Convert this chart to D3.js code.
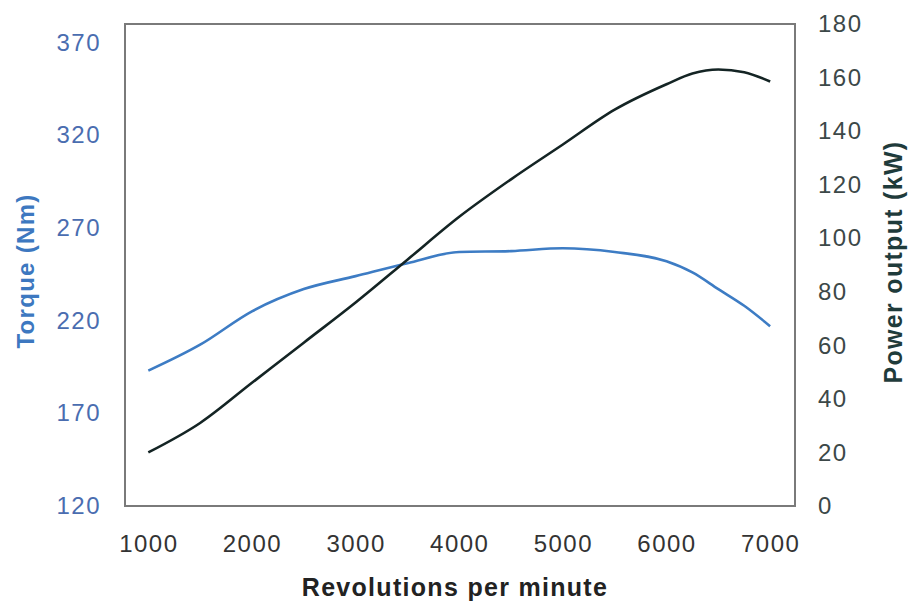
<!DOCTYPE html>
<html><head><meta charset="utf-8">
<script src="https://cdn.jsdelivr.net/npm/d3@7"></script>
<style>
body{margin:0;background:#fff;}
svg text{font-family:"Liberation Sans",Arial,Helvetica,sans-serif;}
</style></head>
<body><svg id="c" width="908" height="602"></svg>
<script>
const rpm    = [1000,1500,2000,2500,3000,3500,4000,4500,5000,5500,6000,6250,6500,6750,7000];
const torque = [193, 207, 225, 237, 244, 251, 257, 257.5,259, 257, 252, 246, 237, 228, 217];
const power  = [20,  31,  46,  61,  76,  92,  108, 122, 135, 148, 157.5,161.5,163,162,158.5];
const xTicks = [1000,2000,3000,4000,5000,6000,7000];
const torqueTicks = [120,170,220,270,320,370];
const powerTicks = [0,20,40,60,80,100,120,140,160,180];

const svg = d3.select("#c");
const L=125, R=795, T=24, B=506;
const x = d3.scaleLinear().domain([775,7240]).range([L,R]);
const yT = d3.scaleLinear().domain([120,380]).range([B,T]);
const yP = d3.scaleLinear().domain([0,180]).range([B,T]);

// frame
svg.append("rect").attr("x",L).attr("y",T).attr("width",R-L).attr("height",B-T)
  .attr("fill","none").attr("stroke","#7a7a7a").attr("stroke-width",2);

// x axis
const gx = svg.append("g").attr("transform",`translate(0,${B})`)
  .call(d3.axisBottom(x).tickValues(xTicks).tickSize(0).tickPadding(29).tickFormat(d3.format("d")));
gx.select(".domain").remove();
gx.selectAll("text").attr("font-size",24).attr("fill","#333").attr("letter-spacing","1.5px");

// left axis
const gl = svg.append("g").attr("transform",`translate(${L},0)`)
  .call(d3.axisLeft(yT).tickValues(torqueTicks).tickSize(0).tickPadding(24));
gl.select(".domain").remove();
gl.selectAll("text").attr("font-size",24).attr("fill","#4a6db0").attr("letter-spacing","1.5px");

// right axis
const gr = svg.append("g").attr("transform",`translate(${R},0)`)
  .call(d3.axisRight(yP).tickValues(powerTicks).tickSize(0).tickPadding(23));
gr.select(".domain").remove();
gr.selectAll("text").attr("font-size",24).attr("fill","#3c4848").attr("letter-spacing","1.5px");

// lines
const data = rpm.map((r,i)=>({r, t:torque[i], p:power[i]}));
svg.append("path").datum(data)
  .attr("d", d3.line().x(d=>x(d.r)).y(d=>yT(d.t)).curve(d3.curveMonotoneX))
  .attr("fill","none").attr("stroke","#3d7cc4").attr("stroke-width",2.6);
svg.append("path").datum(data)
  .attr("d", d3.line().x(d=>x(d.r)).y(d=>yP(d.p)).curve(d3.curveMonotoneX))
  .attr("fill","none").attr("stroke","#142424").attr("stroke-width",2.6);

// titles
svg.append("text").attr("x",455).attr("y",596).attr("text-anchor","middle")
  .attr("font-size",25).attr("font-weight","bold").attr("fill","#222").attr("letter-spacing","1.3px")
  .text("Revolutions per minute");
svg.append("text").attr("transform","translate(34,271) rotate(-90)").attr("text-anchor","middle")
  .attr("font-size",24).attr("font-weight","bold").attr("fill","#3d78c0").attr("letter-spacing","1.3px")
  .text("Torque (Nm)");
svg.append("text").attr("transform","translate(902,262) rotate(-90)").attr("text-anchor","middle")
  .attr("font-size",25).attr("font-weight","bold").attr("fill","#1f3b3b").attr("letter-spacing","1.3px")
  .text("Power output (kW)");
</script></body></html>
